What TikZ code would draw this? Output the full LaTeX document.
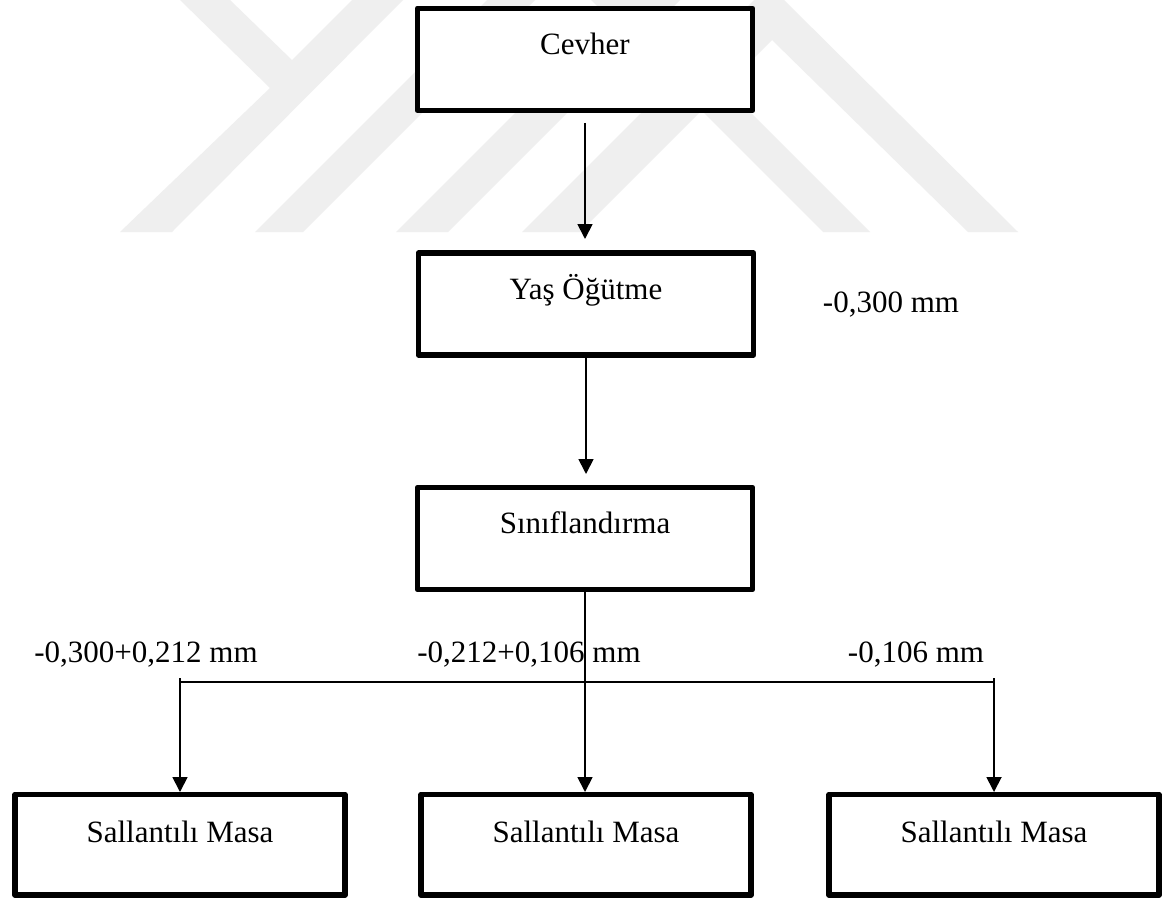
\documentclass[tikz,border=0pt]{standalone}
\usepackage{fontspec}
\setmainfont{Liberation Serif}
\usetikzlibrary{arrows.meta}
\definecolor{wm}{RGB}{239,239,239}
\begin{document}
\begin{tikzpicture}[x=1pt,y=-1pt,
  wmark/.style={fill=wm, draw=none},
  box/.style={draw, line width=5.5pt, fill=white, line join=round, inner sep=0pt, outer sep=0pt,
    minimum width=335pt, text height=46pt, text depth=56pt, font=\fontsize{31}{36}\selectfont},
  lowbox/.style={box, minimum width=330pt, text height=47.5pt, text depth=53pt},
  lbl/.style={font=\fontsize{31}{36}\selectfont, inner sep=0pt, anchor=base},
  conn/.style={line width=1.8pt},
  arr/.style={conn, -{Triangle[width=15pt,length=15pt]}}]
\useasboundingbox (0,0) rectangle (1164,897);
\fill[white] (0,0) rectangle (1164,897);
% watermark
\fill[wmark] (180,0) -- (270,88) -- (120,232) -- (172,232) -- (403,0) -- (352,0) -- (292,60) -- (230,0) -- cycle;
\fill[wmark] (255,232) -- (303,232) -- (535,0) -- (487,0) -- cycle;
\fill[wmark] (396,232) -- (448,232) -- (680,0) -- (628,0) -- cycle;
\fill[wmark] (522,232) -- (754,0) -- (784,0) -- (1018,232) -- (968,232) -- (772,40) -- (580,232) -- cycle;
\fill[wmark] (823,232) -- (870,232) -- (638,0) -- (591,0) -- cycle;
% boxes
\node[box, anchor=north] (cev) at (585,8.3) {Cevher};
\node[box, anchor=north] (yas) at (586,253) {Yaş Öğütme};
\node[box, anchor=north] (sin) at (585,487.5) {Sınıflandırma};
\node[lowbox, anchor=north] (m1) at (180,794.5) {Sallantılı Masa};
\node[lowbox, anchor=north] (m2) at (586,794.5) {Sallantılı Masa};
\node[lowbox, anchor=north] (m3) at (994,794.5) {Sallantılı Masa};
% labels
\node[lbl] (l0) at (891,312) {-0,300 mm};
\node[lbl] (la) at (146,662) {-0,300+0,212 mm};
\node[lbl] (lb) at (529,662) {-0,212+0,106 mm};
\node[lbl] (lc) at (916,662) {-0,106 mm};
% connectors
\coordinate (j) at (586,682);
\draw[arr, shorten <=12.5pt, shorten >=14pt] (cev.south) -- (cev.south |- yas.north);
\draw[arr, shorten >=13.5pt] (yas.south) -- (yas.south |- sin.north);
\draw[arr, shorten >=2.5pt] (sin.south) -- (sin.south |- m2.north);
\draw[conn] (m1.north |- j) -- (m3.north |- j);
\draw[arr, shorten >=2.5pt] ([yshift=4pt]m1.north |- j) -- (m1.north);
\draw[arr, shorten >=2.5pt] ([yshift=4pt]m3.north |- j) -- (m3.north);
\end{tikzpicture}
\end{document}
